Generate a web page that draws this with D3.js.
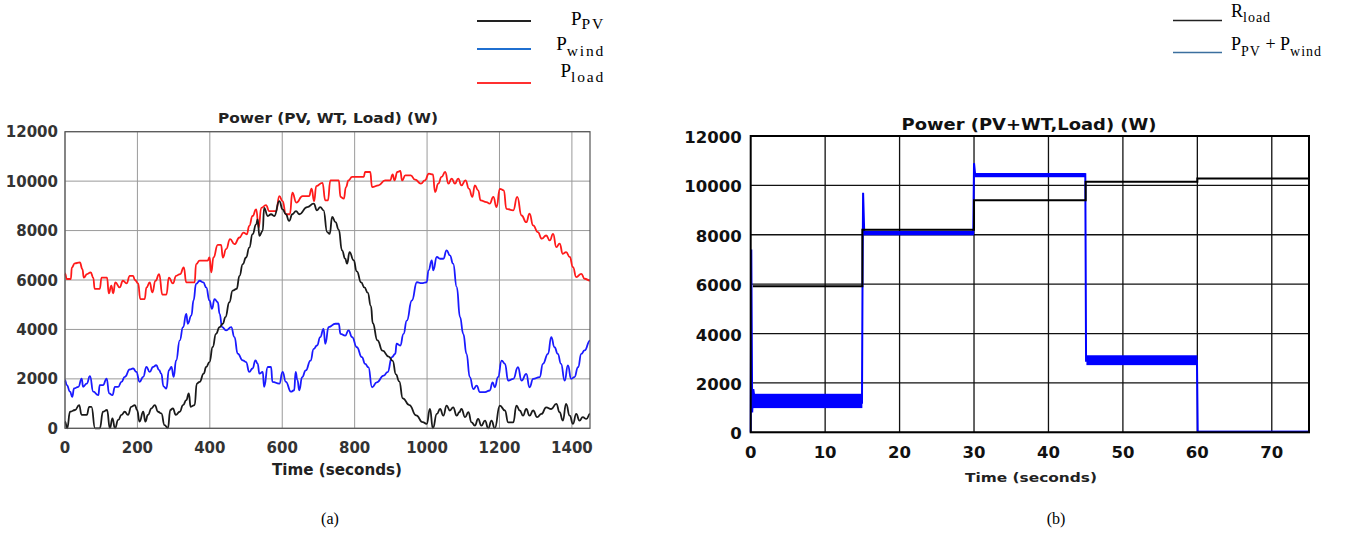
<!DOCTYPE html>
<html><head><meta charset="utf-8">
<script src="https://cdn.jsdelivr.net/npm/d3@7"></script>
<style>body{margin:0;background:#fff}svg{display:block}</style>
</head><body>
<svg id="c" width="1347" height="535"></svg>
<script>
// ---------- Chart (a) data ----------
const aXTicks = [0,200,400,600,800,1000,1200,1400];
const aYTicks = [0,2000,4000,6000,8000,10000,12000];
const pvData = [[0,270],[6,0],[14,670],[28,740],[39,940],[46,540],[60,540],[67,870],[73,870],[83,0],[96,0],[105,670],[116,740],[124,0],[131,400],[138,0],[147,340],[156,540],[165,670],[174,540],[183,870],[193,940],[199,740],[206,270],[216,670],[222,270],[229,540],[239,810],[248,940],[257,670],[266,600],[275,130],[284,0],[291,740],[298,810],[306,540],[317,670],[326,940],[335,1140],[342,1410],[347,870],[358,940],[364,1810],[372,1880],[383,2210],[390,2480],[399,2680],[408,3290],[417,3820],[427,4090],[436,4230],[443,4500],[454,5100],[463,5570],[474,5640],[482,6170],[491,6640],[500,6910],[509,7310],[518,7850],[528,8250],[532,8450],[537,7790],[546,7990],[550,8920],[560,8590],[569,8660],[578,8590],[592,9190],[601,8860],[610,8660],[619,8390],[628,8660],[638,8790],[647,8660],[669,8950],[687,9090],[696,8820],[705,8950],[714,8820],[724,7940],[731,7870],[738,8550],[747,8340],[756,8040],[765,7200],[774,6860],[779,6660],[786,7130],[797,6800],[806,6350],[818,5900],[827,5700],[836,5490],[845,4940],[850,4250],[863,3560],[877,3140],[894,2900],[905,2730],[914,2180],[923,1900],[933,1210],[951,940],[970,520],[988,250],[999,180],[1008,780],[1016,0],[1027,580],[1036,780],[1045,510],[1054,920],[1063,720],[1072,850],[1082,510],[1089,650],[1095,780],[1105,450],[1114,650],[1123,240],[1132,110],[1141,380],[1150,110],[1160,310],[1169,0],[1178,310],[1187,0],[1201,920],[1215,720],[1224,240],[1238,240],[1247,920],[1256,720],[1265,510],[1274,780],[1283,510],[1293,720],[1304,450],[1316,580],[1329,850],[1343,780],[1357,990],[1366,650],[1375,310],[1384,990],[1394,510],[1403,180],[1412,580],[1421,310],[1430,450],[1440,380],[1450,580]];
const windData = [[0,1950],[5,1750],[14,1480],[20,1270],[25,1610],[37,1680],[46,2010],[50,1680],[60,1810],[69,2110],[78,1480],[92,1340],[96,1750],[105,1750],[115,2010],[122,1410],[131,1340],[138,1680],[147,1680],[156,1880],[165,2080],[179,2380],[188,2420],[197,2280],[206,1880],[216,2080],[225,2480],[234,2280],[243,2480],[252,2550],[260,2350],[266,2210],[272,1700],[280,1610],[287,2350],[294,2480],[300,2080],[307,2750],[317,3560],[326,4090],[335,4630],[339,4230],[349,4560],[355,5170],[362,5840],[372,5970],[382,5900],[390,5700],[399,5170],[406,4830],[413,5230],[422,5100],[427,4630],[434,4090],[445,3960],[459,4090],[468,3690],[477,3020],[491,2750],[500,2680],[509,2280],[518,2420],[526,2750],[532,2620],[537,2210],[546,2280],[550,1680],[560,2480],[569,2480],[573,1880],[592,1810],[601,2280],[610,1880],[624,1480],[633,1540],[637,2280],[642,1950],[647,1540],[655,2070],[665,2340],[678,2740],[687,3210],[696,3350],[705,3690],[714,4020],[719,3420],[728,4090],[747,4230],[756,4230],[761,3820],[774,3750],[783,3960],[793,3690],[806,3280],[820,2880],[829,2610],[838,2470],[848,1660],[861,1860],[880,2130],[891,2270],[903,2880],[912,3010],[916,3420],[926,3350],[935,3820],[944,4360],[958,5170],[972,5910],[985,5870],[999,5910],[1004,6390],[1013,6790],[1017,6390],[1027,6930],[1036,6860],[1045,6860],[1054,7200],[1063,7000],[1072,6660],[1082,5710],[1091,4500],[1100,3820],[1109,3010],[1118,2070],[1128,1590],[1137,1730],[1146,1460],[1160,1460],[1173,1530],[1181,1860],[1187,1660],[1196,2070],[1206,2740],[1215,2610],[1224,1930],[1238,2000],[1251,2470],[1261,1930],[1274,2200],[1283,1660],[1293,2000],[1311,2070],[1320,2610],[1334,3010],[1343,3690],[1352,3280],[1361,3010],[1370,2610],[1380,1930],[1389,2540],[1398,2000],[1407,2070],[1417,2470],[1426,3010],[1435,3150],[1450,3550]];
const loadData = [[0,6270],[5,6040],[16,6040],[19,6510],[27,6670],[41,6710],[48,6440],[52,6100],[61,6240],[71,6310],[78,6100],[82,5640],[96,5640],[101,6100],[116,6100],[121,5460],[128,5770],[133,5460],[139,5900],[151,5700],[160,5970],[170,5860],[179,6170],[188,6170],[193,6000],[202,5860],[208,5230],[220,5230],[225,5700],[234,5900],[241,5500],[250,5970],[260,6240],[269,5410],[280,5410],[287,6100],[298,5860],[307,6170],[318,6240],[328,6510],[335,5900],[358,5900],[362,6640],[372,6780],[394,6780],[399,6910],[404,6310],[410,6910],[422,7420],[431,7420],[436,6910],[445,7250],[456,7650],[468,7450],[482,7720],[493,7920],[502,7850],[509,8190],[518,8590],[528,8860],[535,8120],[542,8920],[555,9030],[564,8790],[583,8790],[592,9390],[601,9190],[610,8660],[621,8660],[628,9530],[639,9130],[656,9390],[674,9390],[681,9700],[688,9190],[694,9800],[711,9930],[719,9220],[726,9220],[733,10030],[756,10030],[761,9360],[770,9290],[776,9760],[783,10030],[793,10170],[825,10170],[829,10370],[843,10370],[848,9760],[866,9830],[884,10030],[898,10030],[905,10270],[910,10030],[918,10370],[926,10410],[931,10030],[940,10230],[955,10230],[967,10060],[983,9900],[994,10030],[1005,10300],[1016,10270],[1022,9560],[1031,9900],[1040,10170],[1050,10370],[1059,9900],[1068,10100],[1077,9900],[1086,10100],[1095,9830],[1106,10030],[1116,9690],[1125,9360],[1132,9830],[1141,9630],[1148,9220],[1164,9150],[1173,9090],[1183,9360],[1192,8950],[1201,9690],[1212,9630],[1219,8880],[1238,8820],[1249,9360],[1261,8610],[1274,8340],[1283,8680],[1293,8210],[1306,7940],[1317,7670],[1329,7800],[1339,7600],[1348,7870],[1357,7330],[1366,7470],[1375,7060],[1384,7130],[1394,6930],[1403,6520],[1412,6120],[1426,6250],[1435,6050],[1450,5980]];

// ---------- Chart (b) data ----------
const bXTicks = [0,10,20,30,40,50,60,70];
const bYTicks = [0,2000,4000,6000,8000,10000,12000];
const rloadSteps = [[0.3,5920],[15,8200],[30,9400],[45,10150],[60,10280],[75,9700]];
const pvWindLine = [[0,0],[0.08,7400],[0.2,800],[0.35,1750],[0.6,1200],[14.95,1200],[15.02,6000],[15.1,9700],[15.25,8100],[29.9,8100],[30.0,10900],[30.15,10450],[44.95,10450],[45.05,2900],[59.95,2900],[60.05,20],[75,20]];
const bandStart = [0.3, 15.15, 30.1, 45.1, 60.05];
const bandEnd   = [15.0, 30.0, 45.0, 60.0, 75.0];
const bandLow   = [980, 7980, 10330, 2720, 0];
const bandHigh  = [1560, 8160, 10500, 3120, 60];

const svg = d3.select("#c");
const SANS = "'DejaVu Sans', sans-serif";
const SERIF = "'Liberation Serif', 'Times New Roman', serif";

// ================= Chart (a) =================
(function(){
  const x = d3.scaleLinear().domain([0,1450]).range([65,590]);
  const y = d3.scaleLinear().domain([0,12000]).range([428.3,131.7]);
  const g = svg.append("g");
  g.selectAll(".vg").data(aXTicks).join("line")
    .attr("x1",d=>x(d)).attr("x2",d=>x(d)).attr("y1",y(0)).attr("y2",y(12000))
    .attr("stroke","#9a9a9a").attr("stroke-width",1);
  g.selectAll(".hg").data(aYTicks).join("line")
    .attr("x1",x(0)).attr("x2",x(1450)).attr("y1",d=>y(d)).attr("y2",d=>y(d))
    .attr("stroke","#9a9a9a").attr("stroke-width",1);
  const line = d3.line().x(d=>x(d[0])).y(d=>y(d[1])).curve(d3.curveBumpX);
  [[loadData,"#ff1a1a"],[windData,"#1a1aff"],[pvData,"#1a1a1a"]].forEach(([data,col])=>{
    g.append("path").attr("d",line(data)).attr("fill","none").attr("stroke",col)
      .attr("stroke-width",1.8).attr("stroke-linejoin","round");
  });
  g.append("rect").attr("x",x(0)).attr("y",y(12000)).attr("width",x(1450)-x(0)).attr("height",y(0)-y(12000))
    .attr("fill","none").attr("stroke","#555").attr("stroke-width",1.2);
  g.selectAll(".yl").data(aYTicks).join("text")
    .attr("x",58).attr("y",d=>y(d)+5.5).attr("text-anchor","end")
    .attr("font-family",SANS).attr("font-weight","bold").attr("font-size",15).attr("fill","#333")
    .text(d=>d);
  g.selectAll(".xl").data(aXTicks).join("text")
    .attr("x",d=>x(d)).attr("y",453).attr("text-anchor","middle")
    .attr("font-family",SANS).attr("font-weight","bold").attr("font-size",15).attr("fill","#333")
    .text(d=>d);
  g.append("text").attr("x",328).attr("y",123).attr("text-anchor","middle")
    .attr("font-family",SANS).attr("font-weight","bold").attr("font-size",13.5).attr("fill","#222")
    .attr("textLength",220).attr("lengthAdjust","spacingAndGlyphs")
    .text("Power (PV, WT, Load) (W)");
  g.append("text").attr("x",337).attr("y",475).attr("text-anchor","middle")
    .attr("font-family",SANS).attr("font-weight","bold").attr("font-size",15).attr("fill","#222")
    .attr("textLength",130).attr("lengthAdjust","spacingAndGlyphs")
    .text("Time (seconds)");
  g.append("text").attr("x",330).attr("y",524).attr("text-anchor","middle")
    .attr("font-family",SERIF).attr("font-size",16).attr("fill","#000").text("(a)");
  // legend
  const leg = [["PV","#222",21,25,4],["wind","#1f6fd0",49,50,6],["load","#ff3030",83,77,5]];
  leg.forEach(([sub,col,ly,ty,dy])=>{
    g.append("line").attr("x1",477).attr("x2",531).attr("y1",ly).attr("y2",ly)
      .attr("stroke",col).attr("stroke-width",2.2);
    const t = g.append("text").attr("x",605).attr("y",ty).attr("text-anchor","end")
      .attr("font-family",SERIF).attr("font-size",19).attr("fill","#000");
    t.append("tspan").text("P");
    t.append("tspan").attr("dy",dy).attr("font-size",15.5).attr("letter-spacing",1.8).text(sub);
  });
})();

// ================= Chart (b) =================
(function(){
  const x = d3.scaleLinear().domain([0,75]).range([750.7,1309]);
  const y = d3.scaleLinear().domain([0,12000]).range([432.3,136]);
  const g = svg.append("g");
  g.selectAll(".vg").data(bXTicks.slice(1)).join("line")
    .attr("x1",d=>x(d)).attr("x2",d=>x(d)).attr("y1",y(0)).attr("y2",y(12000))
    .attr("stroke","#111").attr("stroke-width",1.3);
  g.selectAll(".hg").data(bYTicks).join("line")
    .attr("x1",x(0)).attr("x2",x(75)).attr("y1",d=>y(d)).attr("y2",d=>y(d))
    .attr("stroke","#111").attr("stroke-width",1.3);
  g.selectAll(".band").data(bandStart).join("rect")
    .attr("x",(d,i)=>x(d)).attr("width",(d,i)=>x(bandEnd[i])-x(d))
    .attr("y",(d,i)=>y(bandHigh[i])).attr("height",(d,i)=>y(bandLow[i])-y(bandHigh[i]))
    .attr("fill","#0000ff");
  const line = d3.line().x(d=>x(d[0])).y(d=>y(d[1]));
  g.append("path").attr("d",line(pvWindLine)).attr("fill","none").attr("stroke","#0000ff").attr("stroke-width",2);
  const sline = d3.line().x(d=>x(d[0])).y(d=>y(d[1])).curve(d3.curveStepAfter);
  g.append("path").attr("d",sline(rloadSteps)).attr("fill","none").attr("stroke","#000").attr("stroke-width",2);
  g.append("rect").attr("x",x(0)).attr("y",y(12000)).attr("width",x(75)-x(0)).attr("height",y(0)-y(12000))
    .attr("fill","none").attr("stroke","#000").attr("stroke-width",2);
  g.selectAll(".yl").data(bYTicks).join("text")
    .attr("x",741.7).attr("y",d=>y(d)+7).attr("text-anchor","end")
    .attr("font-family",SANS).attr("font-weight","bold").attr("font-size",16.5).attr("fill","#111")
    .text(d=>d);
  g.selectAll(".xl").data(bXTicks).join("text")
    .attr("x",d=>x(d)).attr("y",458).attr("text-anchor","middle")
    .attr("font-family",SANS).attr("font-weight","bold").attr("font-size",16.5).attr("fill","#111")
    .text(d=>d);
  g.append("text").attr("x",1029).attr("y",130).attr("text-anchor","middle")
    .attr("font-family",SANS).attr("font-weight","bold").attr("font-size",15.5).attr("fill","#111")
    .attr("textLength",255).attr("lengthAdjust","spacingAndGlyphs")
    .text("Power (PV+WT,Load) (W)");
  g.append("text").attr("x",1031).attr("y",482).attr("text-anchor","middle")
    .attr("font-family",SANS).attr("font-weight","bold").attr("font-size",13).attr("fill","#222")
    .attr("textLength",132).attr("lengthAdjust","spacingAndGlyphs")
    .text("Time (seconds)");
  g.append("text").attr("x",1056).attr("y",524).attr("text-anchor","middle")
    .attr("font-family",SERIF).attr("font-size",16).attr("fill","#000").text("(b)");
  // legend
  g.append("line").attr("x1",1173).attr("x2",1222).attr("y1",20.5).attr("y2",20.5).attr("stroke","#222").attr("stroke-width",1.6);
  g.append("line").attr("x1",1173).attr("x2",1222).attr("y1",52.5).attr("y2",52.5).attr("stroke","#3b6f9e").attr("stroke-width",1.6);
  const t1 = g.append("text").attr("x",1231).attr("y",17).attr("font-family",SERIF).attr("font-size",18).attr("fill","#000");
  t1.append("tspan").text("R");
  t1.append("tspan").attr("dy",5).attr("font-size",14).attr("letter-spacing",1).text("load");
  const t2 = g.append("text").attr("x",1231).attr("y",50).attr("font-family",SERIF).attr("font-size",18).attr("fill","#000");
  t2.append("tspan").text("P");
  t2.append("tspan").attr("dy",6).attr("font-size",14).attr("letter-spacing",1).text("PV");
  t2.append("tspan").attr("dy",-6).text(" + P");
  t2.append("tspan").attr("dy",6).attr("font-size",14).attr("letter-spacing",1).text("wind");
})();
</script>
</body></html>
